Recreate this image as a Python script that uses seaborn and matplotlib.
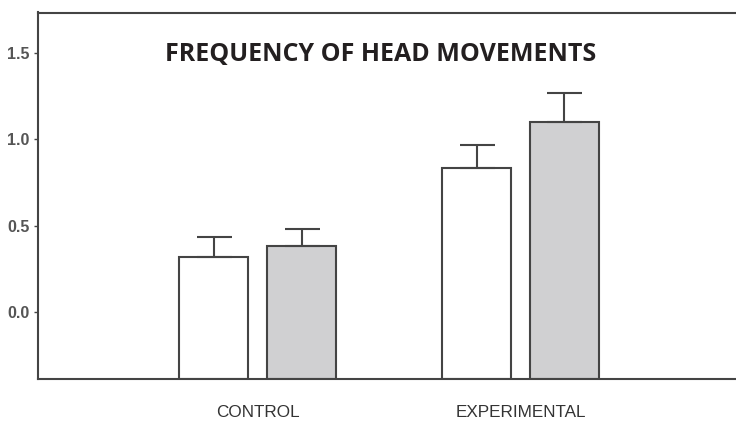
import numpy as np
import pandas as pd
import matplotlib.pyplot as plt
import seaborn as sns

# Values
groups = ['CONTROL', 'EXPERIMENTAL']
series = ['Series 1', 'Series 2']          # white bars, gray bars
means_white = [0.316, 0.834]
means_gray = [0.381, 1.100]
err_white = [0.119, 0.130]
err_gray = [0.099, 0.168]
yticks = [0.0, 0.5, 1.0, 1.5]

df = pd.DataFrame({
    'group': groups * 2,
    'series': [series[0]] * 2 + [series[1]] * 2,
    'value': means_white + means_gray,
})

sns.set_style('ticks')
plt.rcParams['font.family'] = ['Liberation Sans', 'DejaVu Sans']

edge = '#444444'
fig = plt.figure(figsize=(7.36, 4.21), dpi=100)
ax = fig.add_axes([38 / 736, 42 / 421, 701 / 736, 366.5 / 421])

sns.barplot(data=df, x='group', y='value', hue='series', order=groups,
            hue_order=series, palette=['#ffffff', '#d0d0d2'],
            width=0.669, gap=0.216, edgecolor=edge, linewidth=1.5,
            legend=False, ax=ax)

ylo, yhi = -0.387, 1.732
ax.set_ylim(ylo, yhi)
ax.set_xlim(-0.835, 1.831)

# bars start at the bottom of the frame
for p in ax.patches:
    top = p.get_y() + p.get_height()
    p.set_y(ylo)
    p.set_height(top - ylo)

# upper error bars only
for cont, m, e in zip(ax.containers, [means_white, means_gray], [err_white, err_gray]):
    xs = [p.get_x() + p.get_width() / 2 for p in cont]
    ax.errorbar(xs, m, yerr=[np.zeros(len(e)), e], fmt='none', ecolor=edge,
                elinewidth=1.5, capsize=12.6, capthick=1.5, zorder=1)

ax.set_yticks(yticks)
ax.set_yticklabels([f'{t:.1f}' for t in yticks], fontweight='bold')
ax.set_xlabel('')
ax.set_ylabel('')

for s in ax.spines.values():
    s.set_visible(True)
    s.set_color(edge)
    s.set_linewidth(1.5)

ax.tick_params(axis='y', length=3, width=1, color=edge, pad=3,
               labelsize=11.5, labelcolor='#555555', right=True)
ax.tick_params(axis='x', length=0, pad=19, labelsize=12.3, labelcolor='#333333')

ax.text(0.489, 0.886, 'FREQUENCY OF HEAD MOVEMENTS', transform=ax.transAxes,
        ha='center', va='center', fontsize=18, fontweight='bold',
        color='#231f20', family=['Open Sans', 'DejaVu Sans'])

fig.savefig('out.png', dpi=100)
